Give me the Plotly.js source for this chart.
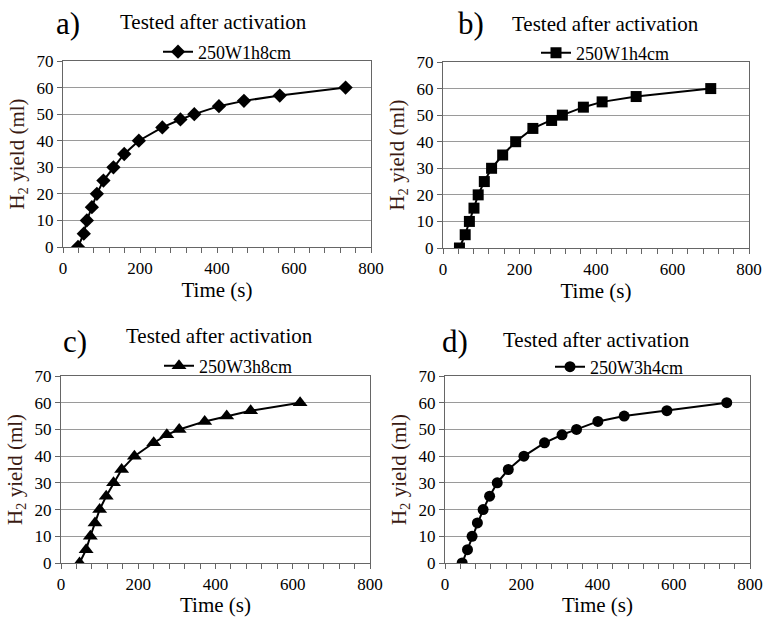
<!DOCTYPE html>
<html>
<head>
<meta charset="utf-8">
<script src="https://cdn.plot.ly/plotly-3.0.1.min.js"></script>
<style>html,body{margin:0;padding:0;background:#fff;}#chart{width:764px;height:617px;}</style>
</head>
<body>
<div id="chart"></div>
<script>
// ---- data ----
const panelLabels = ["a)", "b)", "c)", "d)"];
const panelTitle = "Tested after activation";
const seriesNames = ["250W1h8cm", "250W1h4cm", "250W3h8cm", "250W3h4cm"];

const timeA = [39, 54, 62, 75, 88, 105, 131, 159, 197, 258, 305, 341, 405, 470, 563, 734];
const yieldA = [0, 5, 10, 15, 20, 25, 30, 35, 40, 45, 48, 50, 53, 55, 57, 60];

const timeB = [43, 58, 69, 81, 92, 108, 127, 156, 190, 235, 284, 312, 367, 416, 505, 700];
const yieldB = [0, 5, 10, 15, 20, 25, 30, 35, 40, 45, 48, 50, 53, 55, 57, 60];

const timeC = [48, 65, 76, 88, 100, 117, 136, 157, 190, 240, 274, 306, 372, 429, 491, 619];
const yieldC = [0, 5, 10, 15, 20, 25, 30, 35, 40, 45, 48, 50, 53, 55, 57, 60];

const timeD = [45, 59, 71, 85, 100, 117, 137, 166, 207, 261, 307, 345, 401, 470, 582, 739];
const yieldD = [0, 5, 10, 15, 20, 25, 30, 35, 40, 45, 48, 50, 53, 55, 57, 60];

const xTickVals = [0, 200, 400, 600, 800];
const yTickVals = [0, 10, 20, 30, 40, 50, 60, 70];
const xTitle = "Time (s)";
const yTitle = "H<sub>2</sub> yield (ml)";

// ---- layout helpers ----
const W = 764, H = 617;
const FONT = "'Liberation Serif', 'Times New Roman', Times, serif";
const px = v => v / W;
const py = v => 1 - v / H;

const times = [timeA, timeB, timeC, timeD];
const yields = [yieldA, yieldB, yieldC, yieldD];
const symbols = ["diamond", "square", "triangle-up", "circle"];
const mSizes = [11, 11, 13, 11];

// plot-area boxes in pixels: [left, right, top, bottom]
const boxes = [
  [63, 371, 61, 247],
  [443, 749, 62, 248],
  [61, 370, 376, 563],
  [445, 750, 376, 563]
];
const titlePos = [[213, 22], [605, 24], [219, 336], [596, 340]];
const labelPos = [[68, 24], [471, 24], [75, 341], [455, 341]];
const legendPos = [[158, 52], [536, 53], [159, 366], [550, 367]];

const traces = [];
const layout = {
  width: W, height: H,
  margin: {l: 0, r: 0, t: 0, b: 0},
  paper_bgcolor: "#fff", plot_bgcolor: "#fff",
  font: {family: FONT, color: "#000", size: 16},
  showlegend: true,
  annotations: []
};

for (let i = 0; i < 4; i++) {
  const n = i === 0 ? "" : String(i + 1);
  const legName = "legend" + n;
  traces.push({
    type: "scatter", mode: "lines+markers",
    x: times[i], y: yields[i], name: seriesNames[i],
    xaxis: "x" + n, yaxis: "y" + n, legend: legName,
    line: {color: "#000", width: 2},
    marker: {symbol: symbols[i], size: mSizes[i], color: "#000"}
  });
  const b = boxes[i];
  layout["xaxis" + n] = {
    domain: [px(b[0]), px(b[1])], anchor: "y" + n,
    range: [0, 800], tickvals: xTickVals, ticks: "outside", ticklen: 5,
    tickcolor: "#666", showline: true, linecolor: "#666", linewidth: 1.2, mirror: true,
    showgrid: false, zeroline: false,
    minor: {dtick: 40, tick0: 0, ticks: "outside", ticklen: 5, tickcolor: "#666", showgrid: false},
    tickfont: {family: FONT, size: 17, color: "#000"},
    title: {text: xTitle, font: {family: FONT, size: 21, color: "#000"}, standoff: 4}
  };
  layout["yaxis" + n] = {
    domain: [py(b[3]), py(b[2])], anchor: "x" + n,
    range: [0, 70], tickvals: yTickVals, ticks: "outside", ticklen: 5,
    tickcolor: "#666", showline: true, linecolor: "#666", linewidth: 1.2, mirror: true,
    showgrid: true, gridcolor: "#9a9a9a", gridwidth: 1, zeroline: false,
    tickfont: {family: FONT, size: 17, color: "#000"},
    title: {text: yTitle, font: {family: FONT, size: 21, color: "#3a1a12"}, standoff: 6}
  };
  layout[legName] = {
    x: px(legendPos[i][0]), y: py(legendPos[i][1]), xanchor: "left", yanchor: "middle",
    xref: "paper", yref: "paper",
    bgcolor: "rgba(0,0,0,0)", borderwidth: 0,
    font: {family: FONT, size: 18, color: "#000"},
    itemwidth: 30
  };
  layout.annotations.push({
    text: panelTitle, xref: "paper", yref: "paper",
    x: px(titlePos[i][0]), y: py(titlePos[i][1]), xanchor: "center", yanchor: "middle",
    showarrow: false, font: {family: FONT, size: 21, color: "#000"}
  });
  layout.annotations.push({
    text: panelLabels[i], xref: "paper", yref: "paper",
    x: px(labelPos[i][0]), y: py(labelPos[i][1]), xanchor: "center", yanchor: "middle",
    showarrow: false, font: {family: FONT, size: 31, color: "#000"}
  });
}

Plotly.newPlot("chart", traces, layout, {displayModeBar: false, staticPlot: true});
</script>
</body>
</html>
